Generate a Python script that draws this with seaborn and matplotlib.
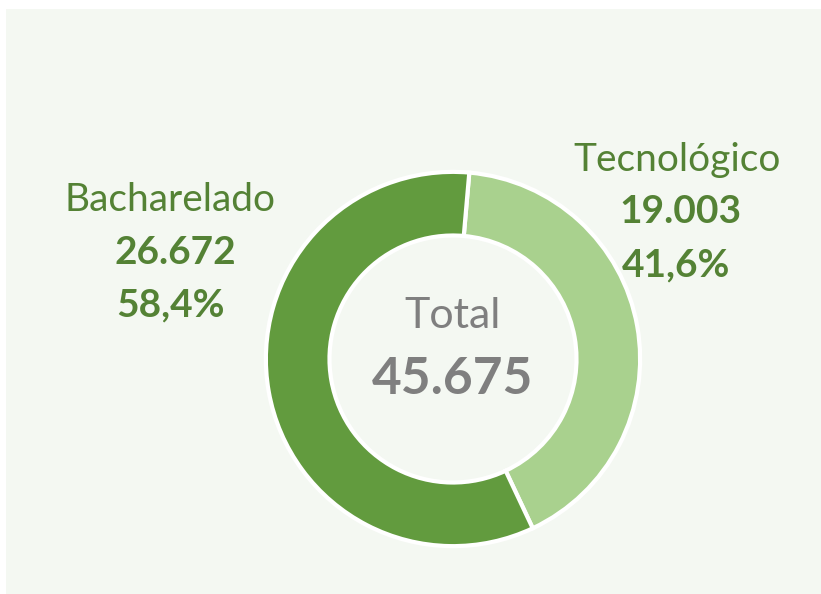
import matplotlib
matplotlib.use('Agg')
import matplotlib.pyplot as plt
import seaborn as sns
from matplotlib.patches import Rectangle

# data
categories = ['Tecnológico', 'Bacharelado']
counts = [19003, 26672]
shares = ['41,6%', '58,4%']
count_labels = ['19.003', '26.672']
total_label = '45.675'

colors = ['#a9d18e', '#629b3e']
text_green = '#548235'
bg = '#f4f8f2'

sns.set_theme(style='white')
plt.rcParams['font.family'] = ['Lato', 'DejaVu Sans']

fig = plt.figure(figsize=(8.21, 5.94), dpi=100)
fig.patch.set_facecolor('white')
fig.patches.append(Rectangle((6 / 821, 0), 1, 1 - 9 / 594, transform=fig.transFigure,
                             facecolor=bg, edgecolor='none', zorder=-5))

# donut centred at (453, 359) px, outer radius ~187 px
cx, cy, r = 453, 359, 189
ax = fig.add_axes([(cx - r) / 821, (594 - cy - r) / 594, 2 * r / 821, 2 * r / 594])
ax.set_zorder(2)
ax.set_facecolor('none')
ax.pie(counts, colors=colors, startangle=85, counterclock=False, radius=1,
       wedgeprops=dict(width=0.34, edgecolor='white', linewidth=3))
ax.set_xlim(-1.01, 1.01)
ax.set_ylim(-1.01, 1.01)
ax.set_aspect('equal')
ax.axis('off')

def fx(px):
    return px / 821

def fy(py):
    return 1 - py / 594

# right label (Tecnológico)
fig.text(fx(677), fy(160), categories[0], ha='center', va='center', fontsize=28, color=text_green)
fig.text(fx(680), fy(212), count_labels[0], ha='center', va='center', fontsize=28,
         color=text_green, fontweight='bold')
fig.text(fx(676), fy(265), shares[0], ha='center', va='center', fontsize=28,
         color=text_green, fontweight='bold')

# left label (Bacharelado)
fig.text(fx(170), fy(200), categories[1], ha='center', va='center', fontsize=28, color=text_green)
fig.text(fx(175), fy(252), count_labels[1], ha='center', va='center', fontsize=28,
         color=text_green, fontweight='bold')
fig.text(fx(170), fy(305), shares[1], ha='center', va='center', fontsize=28,
         color=text_green, fontweight='bold')

# centre
fig.text(fx(453), fy(316), 'Total', ha='center', va='center', fontsize=31, color='#7f7f7f',
         zorder=5)
fig.text(fx(453), fy(380), total_label, ha='center', va='center', fontsize=37,
         color='#7f7f7f', fontweight='bold', zorder=5)

fig.savefig('out.png', dpi=100, facecolor=fig.get_facecolor())
